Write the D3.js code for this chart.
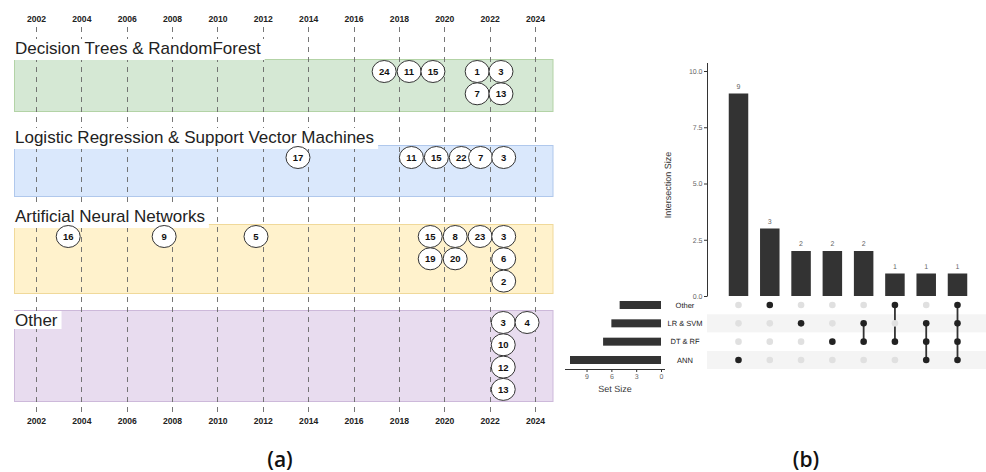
<!DOCTYPE html>
<html><head><meta charset="utf-8">
<script src="https://cdn.jsdelivr.net/npm/d3@7"></script>
<style>body{margin:0;background:#fff} svg{display:block}</style>
</head><body><svg id="c" width="986" height="472"></svg>
<script>
// ---------------- DATA ----------------
const yearTicks = [2002,2004,2006,2008,2010,2012,2014,2016,2018,2020,2022,2024];
const groupNames = ["Decision Trees & RandomForest","Logistic Regression & Support Vector Machines","Artificial Neural Networks","Other"];
// papers: reference id, (approx.) year position, stacking row
const dtPapers  = [{id:24,year:2017.35,row:0},{id:11,year:2018.45,row:0},{id:15,year:2019.5,row:0},{id:1,year:2021.45,row:0},{id:3,year:2022.5,row:0},{id:7,year:2021.45,row:1},{id:13,year:2022.5,row:1}];
const lrPapers  = [{id:17,year:2013.55,row:0},{id:11,year:2018.55,row:0},{id:15,year:2019.65,row:0},{id:22,year:2020.75,row:0},{id:7,year:2021.6,row:0},{id:3,year:2022.62,row:0}];
const annPapers = [{id:16,year:2003.42,row:0},{id:9,year:2007.65,row:0},{id:5,year:2011.7,row:0},{id:15,year:2019.38,row:0},{id:8,year:2020.48,row:0},{id:23,year:2021.58,row:0},{id:3,year:2022.62,row:0},{id:19,year:2019.38,row:1},{id:20,year:2020.48,row:1},{id:6,year:2022.62,row:1},{id:2,year:2022.62,row:2}];
const otherPapers = [{id:3,year:2022.6,row:0},{id:4,year:2023.65,row:0},{id:10,year:2022.6,row:1},{id:12,year:2022.6,row:2},{id:13,year:2022.6,row:3}];
const groupPapers = [dtPapers, lrPapers, annPapers, otherPapers];

const setNames = ["Other","LR & SVM","DT & RF","ANN"];
const setSizes = [5,6,7,11];
const intersectionSizes = [9,3,2,2,2,1,1,1];
const intersectionMembers = [["ANN"],["Other"],["LR & SVM"],["DT & RF"],["LR & SVM","DT & RF"],["Other","DT & RF"],["LR & SVM","DT & RF","ANN"],["Other","LR & SVM","DT & RF","ANN"]];
const intersectionTicks = [0,2.5,5,7.5,10];
const setSizeTicks = [0,3,6,9];

// ---------------- LAYOUT / STYLE ----------------
const bandLayout = [
  {top:59, bottom:111, base:54, fill:"#d5e8d4", stroke:"#b3d3a6"},
  {top:145, bottom:196, base:143, fill:"#dae8fc", stroke:"#b0c8ec"},
  {top:224, bottom:293, base:222, fill:"#fff2cc", stroke:"#f0d99a"},
  {top:310, bottom:401, base:326, fill:"#e8dcef", stroke:"#cdb9da"}
];
const svg = d3.select("#c");
const FA = "'Liberation Sans', Arial, sans-serif";

// ---------------- PANEL (a) ----------------
const x = d3.scaleLinear().domain([2002,2024]).range([36,535]);
const rowY = d3.scaleLinear().domain([0,1]).range([12.5,34.8]);

const gA = svg.append("g");
gA.selectAll("rect.band").data(bandLayout).join("rect")
  .attr("x",14.5).attr("width",538.5)
  .attr("y",d=>d.top+0.5).attr("height",d=>d.bottom-d.top)
  .attr("fill",d=>d.fill).attr("stroke",d=>d.stroke).attr("stroke-width",1);

gA.selectAll("line.yr").data(yearTicks).join("line")
  .attr("x1",d=>Math.round(x(d))+0.5).attr("x2",d=>Math.round(x(d))+0.5)
  .attr("y1",27).attr("y2",414)
  .attr("stroke","#666").attr("stroke-width",0.9).attr("stroke-dasharray","5,5");

const topAxis = d3.axisTop(x).tickValues(yearTicks).tickFormat(d3.format("d")).tickSize(0).tickPadding(0);
const gTop = gA.append("g").attr("transform","translate(0,22)").call(topAxis);
const gBot = gA.append("g").attr("transform","translate(0,418)").call(d3.axisBottom(x).tickValues(yearTicks).tickFormat(d3.format("d")).tickSize(0).tickPadding(0));
[gTop,gBot].forEach(g=>{
  g.select(".domain").remove();
  g.selectAll("text").attr("font-family",FA).attr("font-weight","bold").attr("font-size","8.6px").attr("fill","#222");
});

groupNames.forEach((name,i)=>{
  const L = bandLayout[i];
  const bg = gA.append("rect").attr("fill","#fff");
  const t = gA.append("text").attr("x",15).attr("y",L.base).text(name)
    .attr("font-family",FA).attr("font-size","17px").attr("fill","#222");
  const w = t.node().getComputedTextLength();
  bg.attr("x",13).attr("y",L.base-15).attr("width",w+6).attr("height",i===3?18:21);
  const gp = gA.append("g");
  const nodes = gp.selectAll("g").data(groupPapers[i]).join("g")
    .attr("transform",d=>`translate(${x(d.year)},${L.top+rowY(d.row)})`);
  nodes.append("ellipse").attr("rx",12).attr("ry",11)
    .attr("fill","#fff").attr("stroke","#333").attr("stroke-width",1);
  nodes.append("text").text(d=>d.id).attr("text-anchor","middle").attr("dy","0.36em")
    .attr("font-family",FA).attr("font-weight","bold").attr("font-size","9.5px").attr("fill","#111");
});

svg.append("text").attr("x",280).attr("y",467).attr("text-anchor","middle")
  .attr("font-family","'Open Sans', sans-serif").attr("font-weight","600").attr("font-size","21px").attr("fill","#111").text("(a)");
svg.append("text").attr("x",806).attr("y",467).attr("text-anchor","middle")
  .attr("font-family","'Open Sans', sans-serif").attr("font-weight","600").attr("font-size","21px").attr("fill","#111").text("(b)");

// ---------------- PANEL (b) ----------------
const gB = svg.append("g").attr("text-rendering","geometricPrecision");
const colX = d3.scalePoint().domain(d3.range(intersectionSizes.length)).range([738.5,957.5]);
const yI = d3.scaleLinear().domain([0,10]).range([296,71]);
const rowB = d3.scalePoint().domain(setNames).range([305,360]);
const xS = d3.scaleLinear().domain([0,11]).range([661,570]);
const barW = 19.5;

gB.selectAll("rect.shade").data(["LR & SVM","ANN"]).join("rect")
  .attr("x",707).attr("width",279).attr("y",d=>rowB(d)-9).attr("height",18).attr("fill","#f4f4f4");

gB.selectAll("rect.ibar").data(intersectionSizes).join("rect")
  .attr("x",(d,i)=>colX(i)-barW/2).attr("width",barW)
  .attr("y",d=>yI(d)).attr("height",d=>yI(0)-yI(d)).attr("fill","#333");
gB.selectAll("text.ilab").data(intersectionSizes).join("text")
  .attr("x",(d,i)=>colX(i)).attr("y",d=>yI(d)-5).attr("text-anchor","middle")
  .attr("font-family",FA).attr("font-size","7px").attr("fill","#666").text(d=>d);

const yAx = gB.append("g").attr("transform","translate(707,0)")
  .call(d3.axisLeft(yI).tickValues(intersectionTicks).tickFormat(d3.format(".1f")).tickSize(3).tickPadding(1.5));
yAx.select(".domain").attr("d","M0.5,63V296.5").attr("stroke","#333");
yAx.selectAll(".tick line").attr("stroke","#333");
yAx.selectAll("text").attr("font-family",FA).attr("font-size","7px").attr("fill","#666");
gB.append("text").attr("transform","translate(671,185) rotate(-90)").attr("text-anchor","middle")
  .attr("font-family",FA).attr("font-size","9px").attr("fill","#333").text("Intersection Size");

intersectionMembers.forEach((mem,i)=>{
  const ys = mem.map(m=>rowB(m));
  if (ys.length>1) {
    gB.append("line").attr("x1",colX(i)).attr("x2",colX(i))
      .attr("y1",d3.min(ys)).attr("y2",d3.max(ys)).attr("stroke","#333").attr("stroke-width",1.8);
  }
  gB.selectAll(null).data(setNames).join("circle")
    .attr("cx",colX(i)).attr("cy",d=>rowB(d)).attr("r",3.3)
    .attr("fill",d=>mem.includes(d)?"#222":"#e0e0e0");
});

gB.selectAll("rect.sbar").data(setSizes).join("rect")
  .attr("x",d=>xS(d)).attr("width",d=>xS(0)-xS(d))
  .attr("y",(d,i)=>rowB(setNames[i])-4).attr("height",8).attr("fill","#333");
gB.selectAll("text.slab").data(setNames).join("text")
  .attr("x",685).attr("y",d=>rowB(d)).attr("dy","0.35em").attr("text-anchor","middle")
  .attr("font-family",FA).attr("font-size","7.5px").attr("fill","#222").text(d=>d);
const sAx = gB.append("g").attr("transform","translate(0,369)")
  .call(d3.axisBottom(xS).tickValues(setSizeTicks).tickSize(3).tickPadding(2));
sAx.select(".domain").attr("d","M565,0.5H665").attr("stroke","#333");
sAx.selectAll(".tick line").attr("stroke","#333");
sAx.selectAll("text").attr("font-family",FA).attr("font-size","7px").attr("fill","#666");
gB.append("text").attr("x",615).attr("y",392).attr("text-anchor","middle")
  .attr("font-family",FA).attr("font-size","9px").attr("fill","#333").text("Set Size");
</script></body></html>
